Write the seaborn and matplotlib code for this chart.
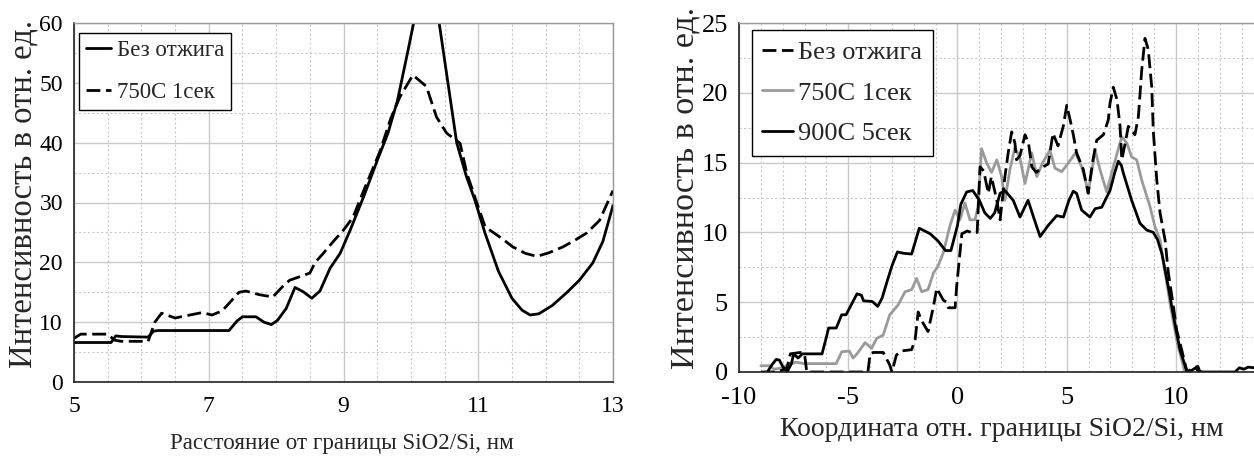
import numpy as np
import pandas as pd
import matplotlib
matplotlib.use("Agg")
import matplotlib.pyplot as plt
from matplotlib.ticker import MultipleLocator, FixedLocator
import seaborn as sns

# ---- left panel: profile across SiO2/Si interface ----
dist_raw = [5.0, 5.3, 5.55, 5.62, 5.7, 6.1, 6.18, 6.25, 7.3, 7.42, 7.5, 7.7, 7.82,
            7.93, 8.02, 8.15, 8.28, 8.4, 8.53, 8.65, 8.8, 8.95, 9.1, 9.3, 9.5, 9.66,
            9.8, 9.95, 10.05, 10.2, 10.35, 10.42, 10.55, 10.68, 10.82, 10.95, 11.1,
            11.3, 11.5, 11.65, 11.77, 11.9, 12.1, 12.31, 12.5, 12.7, 12.85, 13.0]
int_raw = [6.6, 6.6, 6.6, 7.7, 7.6, 7.5, 8.5, 8.6, 8.6, 10.2, 10.9, 10.9, 10.0,
           9.6, 10.3, 12.3, 15.8, 15.1, 14.0, 15.2, 19.0, 21.5, 25.4, 31.0, 37.0, 41.6,
           47.0, 55.0, 60.5, 67.0, 64.0, 60.0, 50.0, 40.0, 34.5, 30.4, 24.9,
           18.5, 14.0, 12.0, 11.2, 11.4, 12.8, 14.9, 17.0, 19.9, 23.5, 29.5]

dist_750 = [5.0, 5.1, 5.5, 5.6, 5.7, 6.1, 6.2, 6.3, 6.5, 6.9, 7.05, 7.2, 7.45, 7.55,
            7.75, 7.95, 8.1, 8.2, 8.5, 8.58, 8.7, 8.85, 9.0, 9.14, 9.3, 9.54, 9.7,
            9.84, 10.03, 10.23, 10.38, 10.53, 10.73, 10.83, 10.98, 11.1, 11.17, 11.35,
            11.51, 11.7, 11.87, 12.05, 12.26, 12.45, 12.61, 12.8, 13.0]
int_750 = [7.3, 8.0, 8.0, 7.0, 6.8, 6.8, 10.0, 11.5, 10.7, 11.6, 11.2, 11.9, 15.0, 15.2,
           14.6, 14.2, 16.0, 17.0, 18.2, 20.0, 21.5, 23.5, 25.4, 27.5, 32.0, 38.5, 44.0,
           47.7, 51.3, 49.4, 44.3, 41.6, 39.9, 34.9, 29.9, 26.0, 25.4, 24.0,
           22.6, 21.5, 21.0, 21.6, 22.6, 23.8, 24.9, 27.0, 32.0]

left_labels = ["Без отжига", "750C 1сек"]

# ---- right panel: coordinate relative to the interface ----
coord_raw = [-9.0, -8.2, -7.8, -7.65, -7.2, -7.0, -6.9, -4.1, -4.0, -3.85, -3.4, -3.1,
             -3.0, -2.8, -2.6, -2.1, -1.94, -1.8, -1.65, -1.35, -1.1, -0.95, -0.65,
             -0.5, -0.42, -0.11, -0.04, 0.11, 0.2, 0.45, 0.7, 0.9, 1.03, 1.2, 1.41,
             1.55, 1.8, 1.95, 2.17, 2.32, 2.48, 2.63, 2.7, 2.86, 3.09, 3.25, 3.4, 3.6,
             3.92, 4.15, 4.37, 4.6, 4.84, 5.0, 5.15, 5.3, 5.45, 5.76, 5.98, 6.2, 6.37,
             6.68, 6.9, 6.98, 7.13, 7.3, 7.44, 7.52, 7.65, 7.82, 8.12, 8.28, 8.43,
             8.58, 8.73, 8.89, 8.96, 9.12, 9.27, 9.5, 9.65, 9.88, 10.03, 10.26, 10.5,
             10.8, 11.0, 11.1]
sig_raw = [0.0, 0.0, 0.3, 1.3, 1.4, 1.3, 0.0, 0.0, 1.3, 1.4, 1.4, 0.5,
           0.0, 1.2, 1.5, 1.6, 2.3, 4.3, 3.7, 2.9, 4.7, 6.0, 5.15,
           5.0, 4.6, 4.6, 6.1, 8.5, 9.9, 10.1, 9.95, 10.0, 14.7, 14.4, 12.8,
           14.0, 12.3, 10.9, 14.0, 15.7, 17.2, 16.4, 15.2, 15.5, 17.0, 16.4, 14.7, 14.3,
           14.7, 14.9, 17.1, 16.2, 17.6, 19.1, 18.1, 17.0, 15.7, 14.5, 12.8, 15.2, 16.6,
           17.0, 18.05, 19.25, 20.4, 19.5, 17.6, 15.2, 16.2, 17.6, 17.0, 18.3, 21.6,
           23.9, 23.1, 20.4, 17.3, 13.75, 11.4, 9.45, 7.1, 4.7, 3.0, 1.6, 0.0,
           0.3, 0.4, 0.0]

coord_750 = [-9.0, -8.6, -8.4, -8.0, -7.8, -7.4, -7.0, -5.55, -5.3, -4.95, -4.78, -4.6,
             -4.46, -4.23, -3.93, -3.7, -3.4, -3.1, -2.72, -2.4, -2.1, -1.87, -1.64,
             -1.35, -1.1, -0.9, -0.66, -0.34, -0.11, 0.11, 0.34, 0.57, 0.8, 0.94, 1.1,
             1.34, 1.56, 1.8, 2.02, 2.17, 2.4, 2.63, 2.86, 3.09, 3.4, 3.63, 3.9, 4.23,
             4.46, 4.77, 5.06, 5.4, 5.68, 5.99, 6.3, 6.52, 6.83, 7.13, 7.52, 7.75, 7.97,
             8.2, 8.43, 8.81, 9.04, 9.27, 9.5, 9.73, 10.03, 10.26, 10.4]
sig_750 = [0.45, 0.45, 0.2, 0.3, 0.5, 0.7, 0.6, 0.6, 1.45, 1.5, 1.0, 1.3,
           1.6, 2.1, 1.7, 2.4, 2.65, 4.1, 4.8, 5.75, 5.9, 6.7, 5.75,
           5.9, 7.1, 7.55, 8.5, 10.5, 11.6, 10.9, 12.1, 10.9, 10.9, 11.8, 16.0,
           14.95, 14.3, 15.2, 14.0, 12.3, 14.5, 16.1, 15.3, 13.5, 15.7, 14.0, 15.0, 15.9,
           14.6, 14.35, 14.95, 15.7, 14.7, 12.9, 15.9, 14.5, 12.9, 14.7, 16.85, 16.4, 15.4,
           15.2, 13.75, 11.85, 10.4, 9.45, 7.1, 4.9, 2.3, 0.86, 0.0]

coord_900 = [-8.7, -8.5, -8.3, -8.15, -8.0, -7.8, -7.6, -7.5, -7.3, -7.1, -6.2, -6.0,
             -5.9, -5.55, -5.3, -5.1, -4.8, -4.6, -4.4, -4.3, -3.9, -3.65, -3.45, -3.2,
             -3.0, -2.75, -2.45, -2.1, -1.9, -1.75, -1.5, -1.25, -0.9, -0.55, -0.3, 0.0,
             0.15, 0.42, 0.7, 1.0, 1.25, 1.5, 1.7, 1.95, 2.17, 2.55, 2.86, 3.23, 3.5,
             3.78, 4.15, 4.54, 4.85, 5.1, 5.3, 5.45, 5.68, 6.06, 6.3, 6.6, 6.98, 7.2,
             7.36, 7.5, 7.59, 7.97, 8.35, 8.66, 8.96, 9.15, 9.35, 9.65, 9.86, 10.18,
             10.49, 10.6, 10.9, 11.0, 11.2, 12.7, 12.9, 13.1, 13.3, 13.6]
sig_900 = [0.0, 0.5, 0.9, 0.85, 0.4, 0.0, 0.6, 1.3, 1.0, 1.3, 1.3, 2.5,
           3.15, 3.15, 4.1, 4.1, 5.0, 5.6, 5.5, 5.1, 5.05, 4.7, 5.3, 6.6,
           7.6, 8.6, 8.5, 8.45, 9.5, 10.3, 10.1, 9.9, 9.4, 8.7, 8.7, 10.5,
           12.0, 12.9, 13.0, 12.3, 11.4, 11.0, 11.4, 12.8, 13.0, 12.3, 11.1, 12.3, 11.0,
           9.7, 10.5, 11.2, 11.1, 12.3, 12.95, 12.8, 11.6, 11.1, 11.7, 11.8, 13.0, 14.3,
           15.1, 14.8, 14.25, 12.3, 10.65, 10.17, 10.0, 9.5, 8.5, 6.1, 4.2, 1.6,
           0.1, 0.0, 0.3, 0.1, 0.0, 0.0, 0.3, 0.2, 0.35, 0.3]

right_labels = ["Без отжига", "750C 1сек", "900C 5сек"]

sns.set_style("white")
plt.rcParams["font.family"] = ["Liberation Serif", "DejaVu Serif"]
plt.rcParams["axes.unicode_minus"] = False

fig = plt.figure(figsize=(12.54, 4.57), dpi=100)
ax1 = fig.add_axes([74 / 1254, 75 / 457, 539 / 1254, 359 / 457])
ax2 = fig.add_axes([739 / 1254, 85 / 457, 515 / 1254, 349 / 457])

DASH = (0, (5, 2))
LW = 2.0

df_l1 = pd.DataFrame({"x": dist_raw, "y": int_raw})
df_l2 = pd.DataFrame({"x": dist_750, "y": int_750})
sns.lineplot(data=df_l1, x="x", y="y", ax=ax1, color="black", lw=LW,
             sort=False, estimator=None, label=left_labels[0])
sns.lineplot(data=df_l2, x="x", y="y", ax=ax1, color="black", lw=LW,
             sort=False, estimator=None, label=left_labels[1], linestyle=DASH)

df_r1 = pd.DataFrame({"x": coord_raw, "y": sig_raw})
df_r2 = pd.DataFrame({"x": coord_750, "y": sig_750})
df_r3 = pd.DataFrame({"x": coord_900, "y": sig_900})
sns.lineplot(data=df_r2, x="x", y="y", ax=ax2, color="#9a9a9a", lw=LW,
             sort=False, estimator=None, label=right_labels[1])
sns.lineplot(data=df_r3, x="x", y="y", ax=ax2, color="black", lw=LW,
             sort=False, estimator=None, label=right_labels[2])
sns.lineplot(data=df_r1, x="x", y="y", ax=ax2, color="black", lw=LW,
             sort=False, estimator=None, label=right_labels[0], linestyle=DASH)

GRID_MAJ = "#c9c9c9"
GRID_MIN = "#c9c9c9"


def style_axes(ax, tick_fs, right_spine=True):
    ax.set_axisbelow(True)
    ax.grid(which="major", color=GRID_MAJ, lw=1.0, ls="-")
    ax.grid(which="minor", color=GRID_MIN, lw=0.8, ls=(0, (2, 2)))
    ax.tick_params(which="both", direction="in", colors="#222222",
                   labelcolor="black", labelsize=tick_fs, top=False, right=False)
    ax.tick_params(which="major", length=6, width=1)
    ax.tick_params(which="minor", length=5, width=1)
    for s in ("left", "bottom"):
        ax.spines[s].set_color("#222222")
        ax.spines[s].set_linewidth(1.2)
    ax.spines["top"].set_color("#9a9a9a")
    ax.spines["top"].set_linewidth(1.0)
    ax.spines["right"].set_color("#9a9a9a")
    ax.spines["right"].set_linewidth(1.0)
    ax.spines["right"].set_visible(right_spine)


# left axes
ax1.set_xlim(5, 13)
ax1.set_ylim(0, 60)
ax1.xaxis.set_major_locator(FixedLocator([5, 7, 9, 11, 13]))
ax1.xaxis.set_minor_locator(MultipleLocator(0.5))
ax1.yaxis.set_major_locator(MultipleLocator(10))
ax1.yaxis.set_minor_locator(MultipleLocator(5))
style_axes(ax1, 17)
ax1.tick_params(axis="x", which="major", pad=10)
ax1.tick_params(axis="y", which="major", pad=8)
ax1.set_xlabel("Расстояние от границы SiO2/Si, нм", fontsize=16.6)
ax1.set_ylabel("Интенсивность в отн. ед.", fontsize=23.5)
ax1.xaxis.label.set_va("center")
ax1.yaxis.label.set_va("center")
ax1.xaxis.set_label_coords(0.497, (382 - 444) / 359)
ax1.yaxis.set_label_coords((23 - 74) / 539, 0.525)

leg1 = ax1.legend(loc="upper left", bbox_to_anchor=(0.0093, 0.972), borderaxespad=0,
                  fontsize=16.5, frameon=True, fancybox=False, framealpha=1,
                  edgecolor="black", handlelength=1.1, handletextpad=0.25,
                  labelspacing=0.9, borderpad=0.3)
leg1.get_frame().set_linewidth(1.0)

# right axes
ax2.set_xlim(-10, 13.57)
ax2.set_ylim(0, 25)
ax2.xaxis.set_major_locator(MultipleLocator(5))
ax2.xaxis.set_minor_locator(MultipleLocator(1))
ax2.yaxis.set_major_locator(MultipleLocator(5))
ax2.yaxis.set_minor_locator(MultipleLocator(2.5))
style_axes(ax2, 19, right_spine=False)
ax2.tick_params(axis="x", which="major", pad=11)
ax2.tick_params(axis="y", which="major", pad=8)
ax2.set_xlabel("Координата отн. границы SiO2/Si, нм", fontsize=20)
ax2.set_ylabel("Интенсивность в отн. ед.", fontsize=24.5)
ax2.xaxis.label.set_va("center")
ax2.yaxis.label.set_va("center")
ax2.xaxis.set_label_coords(0.511, (372 - 429) / 349)
ax2.yaxis.set_label_coords((685 - 739) / 515, 0.527)

h, l = ax2.get_legend_handles_labels()
order = [l.index(lbl) for lbl in right_labels]
leg2 = ax2.legend([h[i] for i in order], [l[i] for i in order],
                  loc="upper left", bbox_to_anchor=(0.025, 0.98), borderaxespad=0,
                  fontsize=19, frameon=True, fancybox=False, framealpha=1,
                  edgecolor="black", handlelength=1.15, handletextpad=0.2,
                  labelspacing=0.65, borderpad=0.4)
leg2.get_frame().set_linewidth(1.0)

fig.savefig("out.png", dpi=100)
